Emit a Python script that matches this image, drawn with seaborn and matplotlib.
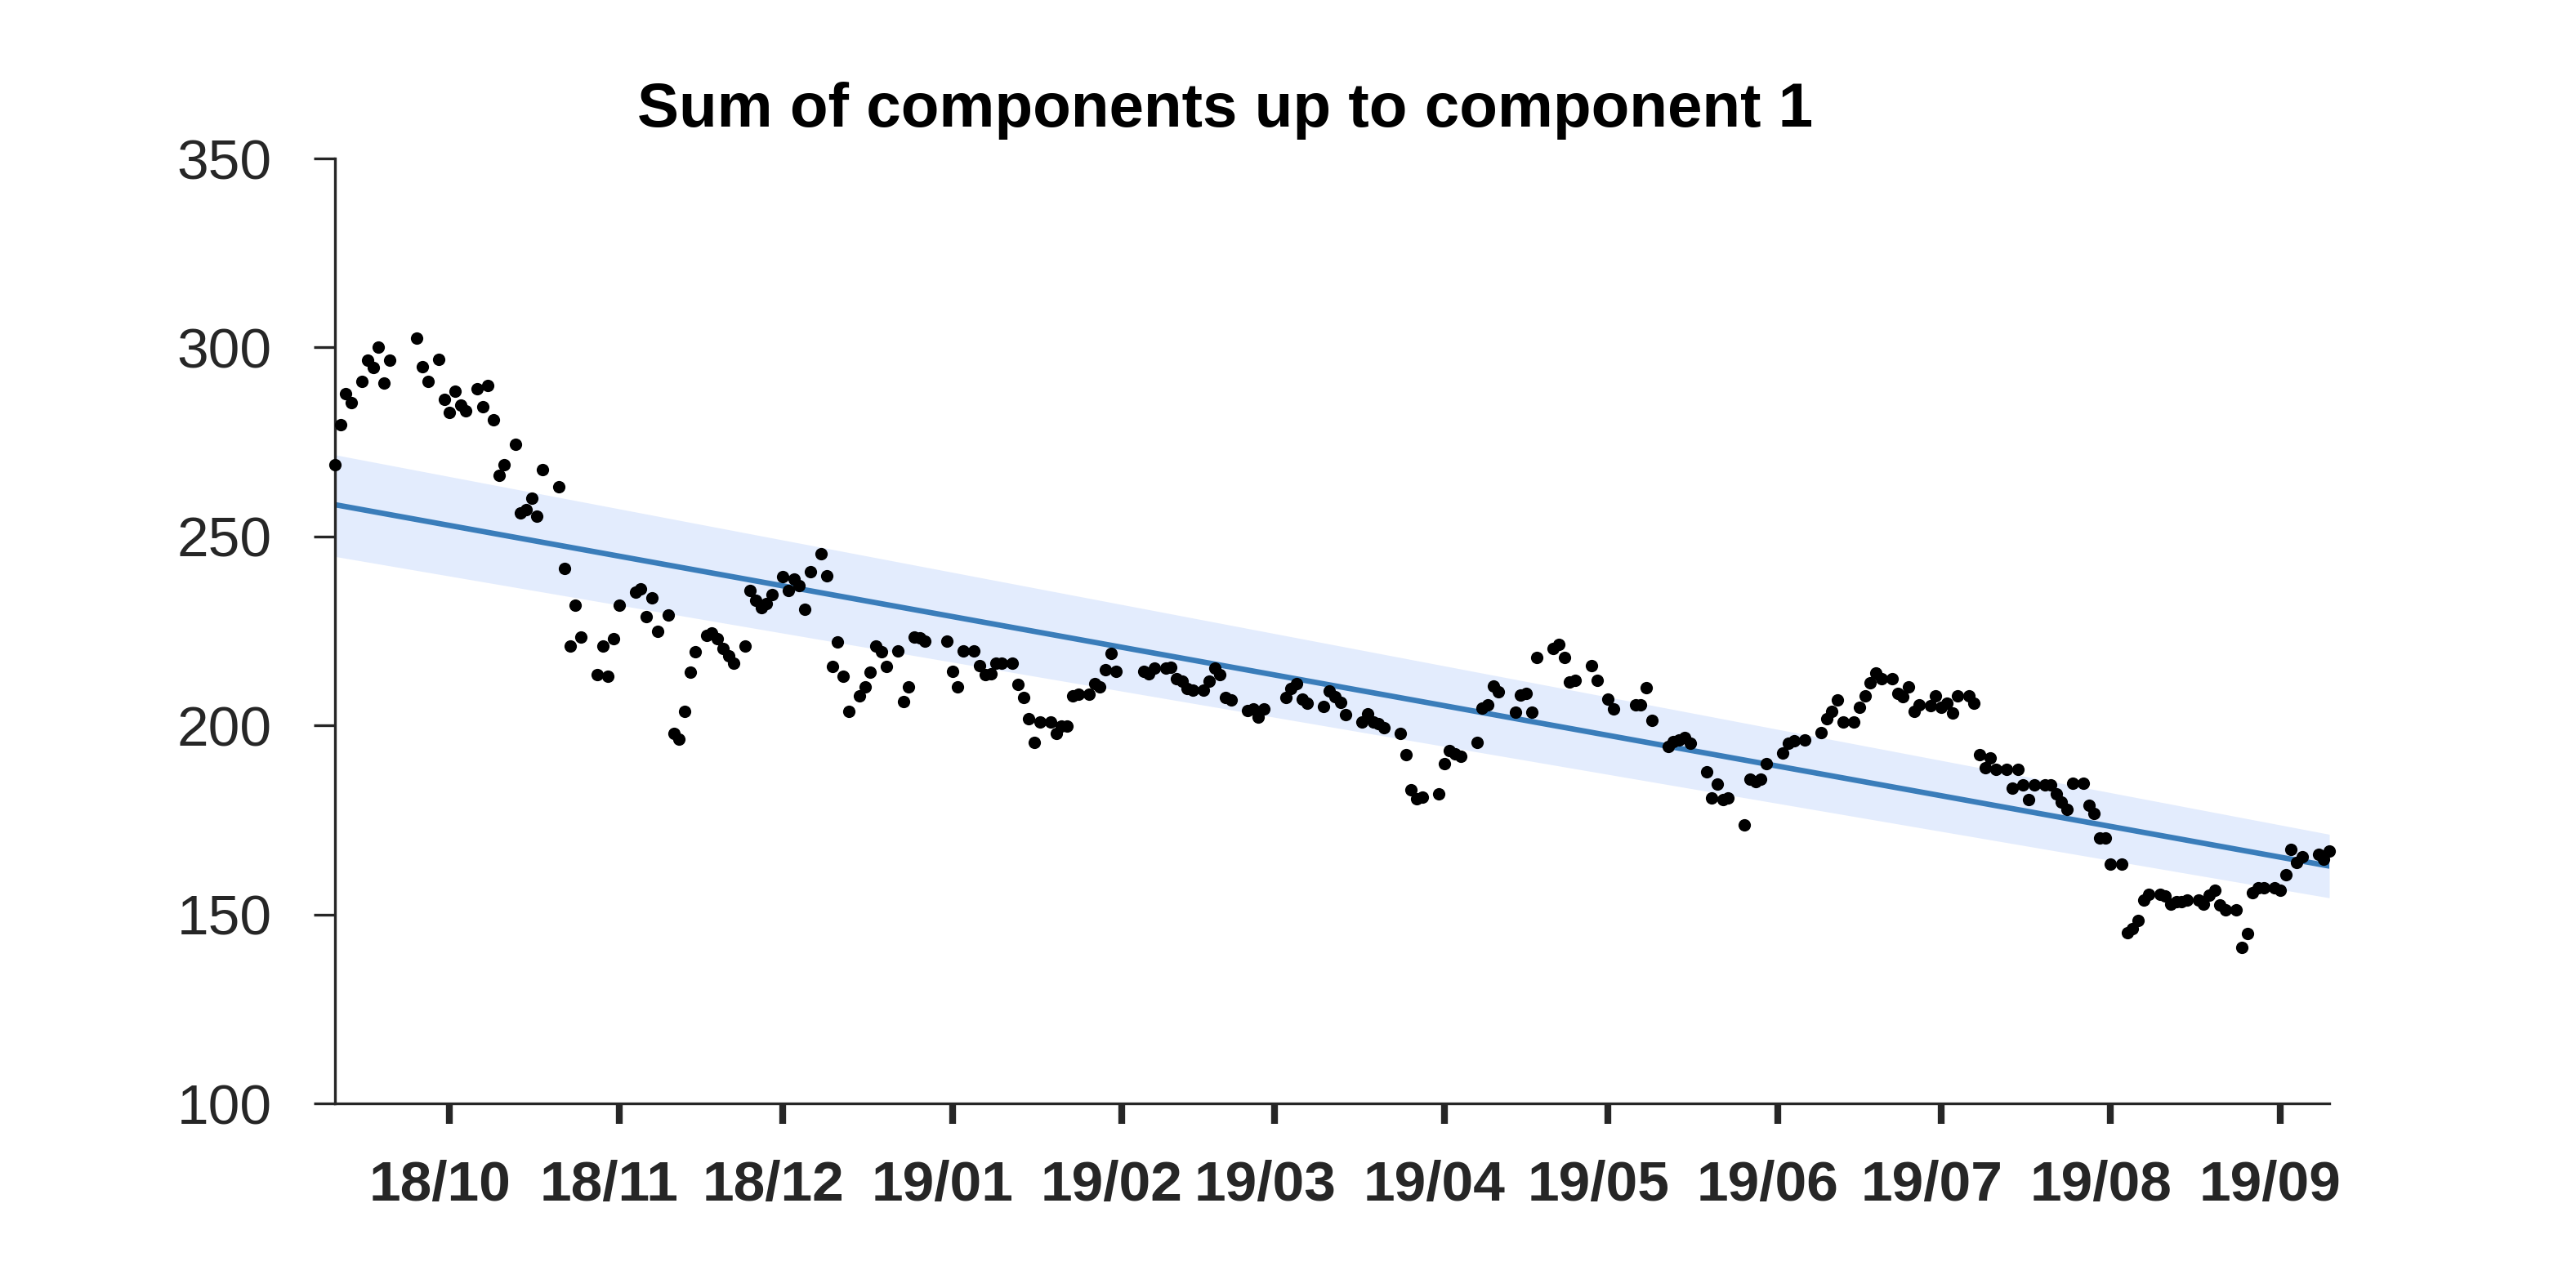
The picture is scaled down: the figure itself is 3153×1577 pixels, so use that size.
import matplotlib
matplotlib.use("Agg")
import matplotlib.pyplot as plt
from matplotlib.transforms import ScaledTranslation
import numpy as np
import pandas as pd
import seaborn as sns

# daily observations, day offsets from the first date
start_date = "2018-09-10"
end_date = "2019-09-10"

days = [
    0, 1, 2, 3, 5, 6, 7, 8, 9, 10, 15, 16, 17, 19, 20, 21, 22, 23, 24, 26,
    27, 28, 29, 30, 31, 33, 34, 35, 36, 37, 38, 41, 42, 43, 44, 45, 48, 49, 50, 51,
    52, 55, 56, 57, 58, 59, 61, 62, 63, 64, 65, 66, 68, 69, 70, 71, 72, 73, 75, 76,
    77, 78, 79, 80, 82, 83, 84, 85, 86, 87, 89, 90, 91, 92, 93, 94, 96, 97, 98, 99,
    100, 101, 103, 104, 105, 106, 107, 108, 112, 113, 114, 115, 117, 118, 119, 120, 121, 122, 124, 125,
    126, 127, 128, 129, 131, 132, 133, 134, 135, 136, 138, 139, 140, 141, 142, 143, 148, 149, 150, 152,
    153, 154, 155, 156, 157, 159, 160, 161, 162, 163, 164, 167, 168, 169, 170, 174, 175, 176, 177, 178,
    181, 182, 183, 184, 185, 188, 189, 190, 191, 192, 195, 196, 197, 198, 199, 202, 203, 204, 205, 206,
    209, 210, 211, 212, 213, 216, 217, 218, 219, 220, 223, 224, 225, 226, 227, 230, 231, 233, 234, 238,
    239, 240, 241, 244, 245, 246, 247, 248, 251, 252, 253, 254, 255, 258, 259, 260, 261, 262, 265, 266,
    267, 269, 272, 273, 274, 275, 276, 278, 279, 280, 281, 282, 283, 285, 286, 287, 288, 289, 290, 292,
    293, 294, 295, 296, 297, 299, 300, 301, 302, 303, 304, 306, 307, 308, 309, 310, 311, 313, 314, 315,
    316, 317, 318, 320, 321, 322, 323, 324, 325, 327, 328, 329, 330, 331, 332, 334, 335, 336, 337, 338,
    339, 341, 342, 343, 344, 345, 346, 348, 349, 350, 351, 352, 353, 355, 356, 357, 358, 359, 360, 363,
    364, 365,
]

values = [
    269.0, 279.5, 287.7, 285.3, 291.0, 296.6, 294.6, 300.0, 290.6, 296.6, 302.5, 295.0, 291.1, 296.9, 286.2, 282.8, 288.5, 284.8, 283.2, 289.1,
    284.3, 290.0, 280.9, 266.1, 269.0, 274.4, 256.2, 257.0, 260.2, 255.3, 267.6, 263.2, 241.6, 220.9, 231.7, 223.4, 213.5, 220.9, 213.0, 222.9,
    231.7, 235.2, 236.2, 228.8, 233.7, 224.9, 229.3, 197.9, 196.4, 203.8, 214.0, 219.5, 223.9, 224.5, 222.9, 220.4, 218.5, 216.5, 220.9, 235.7,
    233.2, 231.2, 232.2, 234.7, 239.3, 235.7, 238.7, 237.1, 230.8, 240.6, 245.4, 239.6, 215.5, 222.0, 213.1, 203.8, 207.8, 210.1, 214.1, 221.1,
    219.5, 215.5, 219.8, 206.3, 210.3, 223.4, 223.1, 222.4, 222.4, 214.4, 210.3, 219.8, 219.8, 215.8, 213.4, 213.7, 216.4, 216.4, 216.4, 210.8,
    207.3, 201.8, 195.4, 200.8, 200.8, 197.9, 199.8, 199.8, 207.8, 208.3, 208.3, 211.1, 210.3, 214.8, 219.0, 214.4, 214.4, 213.6, 215.1, 215.1,
    215.3, 212.3, 211.8, 209.8, 209.3, 209.3, 211.8, 215.1, 213.4, 207.3, 206.8, 203.9, 204.4, 202.3, 204.4, 207.4, 209.8, 211.1, 207.0, 205.8,
    205.0, 209.1, 207.5, 206.0, 202.9, 200.9, 203.1, 201.0, 200.4, 199.3, 197.9, 192.3, 183.0, 180.5, 181.0, 181.8, 189.8, 193.4, 192.5, 191.9,
    195.4, 204.5, 205.5, 210.5, 208.9, 203.4, 208.0, 208.5, 203.4, 217.9, 220.4, 221.5, 217.9, 211.4, 211.9, 215.9, 211.9, 206.9, 204.4, 205.4,
    205.4, 209.9, 201.4, 194.5, 195.7, 196.1, 196.7, 195.2, 187.8, 180.8, 184.4, 180.3, 180.9, 173.7, 185.8, 185.2, 185.8, 189.8, 192.8, 195.3,
    195.9, 196.2, 198.2, 201.8, 203.8, 206.8, 200.9, 200.9, 204.8, 207.8, 211.3, 213.9, 212.4, 212.4, 208.4, 207.7, 210.3, 203.8, 205.4, 205.3,
    207.8, 204.9, 205.8, 203.2, 207.8, 207.8, 205.8, 192.3, 188.8, 191.3, 188.3, 188.3, 183.3, 188.3, 184.3, 180.3, 184.3, 184.3, 184.3, 181.8,
    179.8, 177.7, 184.8, 184.8, 178.9, 176.8, 170.3, 170.3, 163.3, 163.3, 145.2, 146.2, 148.3, 153.7, 155.3, 155.3, 154.8, 152.8, 153.4, 153.4,
    153.9, 153.8, 152.7, 155.0, 156.4, 152.5, 151.2, 151.2, 141.3, 144.9, 155.7, 157.0, 157.0, 157.0, 156.3, 160.4, 167.2, 163.8, 165.2, 165.9,
    164.7, 166.7,
]

# fitted trend at the first and last date, and its band
trend_values = [258.4, 162.8]
band_upper = [271.6, 171.2]
band_lower = [244.7, 154.4]

tick_dates = [
    "2018-10-01", "2018-11-01", "2018-12-01", "2019-01-01", "2019-02-01", "2019-03-01",
    "2019-04-01", "2019-05-01", "2019-06-01", "2019-07-01", "2019-08-01", "2019-09-01",
]
tick_labels = [
    "18/10", "18/11", "18/12", "19/01", "19/02", "19/03",
    "19/04", "19/05", "19/06", "19/07", "19/08", "19/09",
]
y_ticks = [100, 150, 200, 250, 300, 350]

dark = "#262626"

sns.set_theme(style="white")
plt.rcParams["font.family"] = ["Liberation Sans", "DejaVu Sans"]

dates = pd.Timestamp(start_date) + pd.to_timedelta(days, unit="D")
df = pd.DataFrame({"date": dates, "value": values})
trend = pd.DataFrame({
    "date": pd.to_datetime([start_date, end_date]),
    "value": trend_values,
    "upper": band_upper,
    "lower": band_lower,
})

fig = plt.figure(figsize=(15.765, 7.885), dpi=200)
ax = fig.add_axes([0.13003, 0.14331, 0.77419, 0.73367])

ax.fill_between(trend["date"], trend["lower"], trend["upper"],
                color="#e3ecfd", linewidth=0, zorder=1)
sns.lineplot(data=trend, x="date", y="value", color="#3a7dba",
             linewidth=2.4, ax=ax, zorder=2, solid_capstyle="round")
sns.scatterplot(data=df, x="date", y="value", color="black", s=30,
                linewidth=0, ax=ax, zorder=3, clip_on=False)

ax.set_xlim(pd.Timestamp(start_date), pd.Timestamp(end_date))
ax.set_ylim(100, 350)
ax.set_yticks(y_ticks)
ax.set_xticks(pd.to_datetime(tick_dates))
ax.set_xticklabels(tick_labels, fontweight="bold")
ax.set_xlabel("")
ax.set_ylabel("")

for side in ["top", "right"]:
    ax.spines[side].set_visible(False)
for side in ["left", "bottom"]:
    ax.spines[side].set_color(dark)
    ax.spines[side].set_linewidth(1.2)

ax.tick_params(axis="y", left=True, direction="out", length=9.4, width=1.2,
               pad=18.5, labelsize=25, color=dark, labelcolor=dark)
ax.tick_params(axis="x", bottom=True, direction="out", length=9.0, width=3.0,
               pad=16, labelsize=25, color=dark, labelcolor=dark)

shift = ScaledTranslation(-0.06, 0, fig.dpi_scale_trans)
for lab in ax.get_xticklabels():
    lab.set_transform(lab.get_transform() + shift)

fig.text(0.4757, 0.9017, "Sum of components up to component 1",
         ha="center", va="baseline", fontsize=27.5, fontweight="bold", color="black")

fig.savefig("out.png", dpi=200, facecolor="white")
plt.close(fig)
